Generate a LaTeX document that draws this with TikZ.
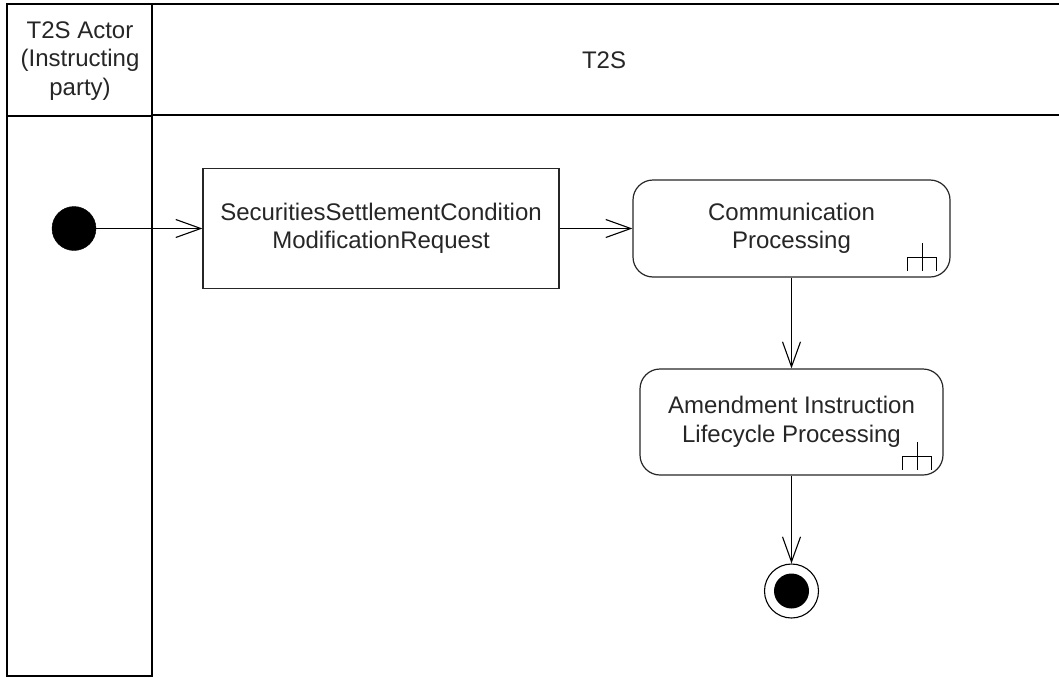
\documentclass[tikz,border=0pt]{standalone}
\usepackage{fontspec}
\setmainfont{Liberation Sans}
\usetikzlibrary{arrows.meta,calc}
\begin{document}
\begin{tikzpicture}[x=1pt,y=-1pt,
  lane/.style={line width=1.6pt,draw=black},
  txt/.style={font=\fontsize{24}{28.5}\selectfont,text=black!85,align=center},
  actbox/.style={draw=black!85,line width=1.2pt,rectangle,minimum width=356pt,minimum height=120pt,inner sep=0pt,txt},
  procbox/.style={draw=black!85,line width=1.2pt,rectangle,rounded corners=20pt,inner sep=0pt,txt},
  startnode/.style={circle,fill=black,draw=black,minimum size=44pt,inner sep=0pt},
  endouter/.style={circle,draw=black,line width=1.1pt,minimum size=54pt,inner sep=0pt},
  endinner/.style={circle,fill=black,minimum size=35pt,inner sep=0pt},
  flow/.style={line width=1.1pt,-{Straight Barb[length=25pt,width=18pt,line width=1.1pt]}},
  rake/.pic={\draw[line width=1.2pt] (-29,0) -- (-29,-13) -- (0,-13) -- (0,0);
             \draw[line width=1.2pt] (-14.5,0) -- (-14.5,-28);}
]
\useasboundingbox (0,0) rectangle (1059,677);
% lanes
\draw[lane] (7,4) rectangle (152,676);
\draw[lane] (7,116) -- (152,116);
\draw[lane] (152,4) -- (1059,4);
\draw[lane] (152,115) -- (1059,115);
\node[txt] (h1) at (80,61) {T2S Actor\\(Instructing\\party)};
\node[txt] (h2) at (604,60) {T2S};
% nodes
\node[startnode] (start) at (74,228.5) {};
\node[actbox] (req) at (381,228.5) {SecuritiesSettlementCondition\\ModificationRequest};
\node[procbox,minimum width=317pt,minimum height=97pt] (comm) at (791.5,228.5) {Communication\\Processing};
\node[procbox,minimum width=303pt,minimum height=106pt] (amend) at (791.5,422) {Amendment Instruction\\Lifecycle Processing};
\node[endouter] (end) at (791.5,591) {};
\node[endinner] (endin) at (end) {};
\pic at ($(comm.south east)+(-14,-7)$) {rake};
\pic at ($(amend.south east)+(-12,-6)$) {rake};
% connectors
\draw[flow] (start.east) -- (req.west);
\draw[flow] (req.east) -- (comm.west);
\draw[flow] (comm.south) -- (amend.north);
\draw[flow] (amend.south) -- (end.north);
\end{tikzpicture}
\end{document}
